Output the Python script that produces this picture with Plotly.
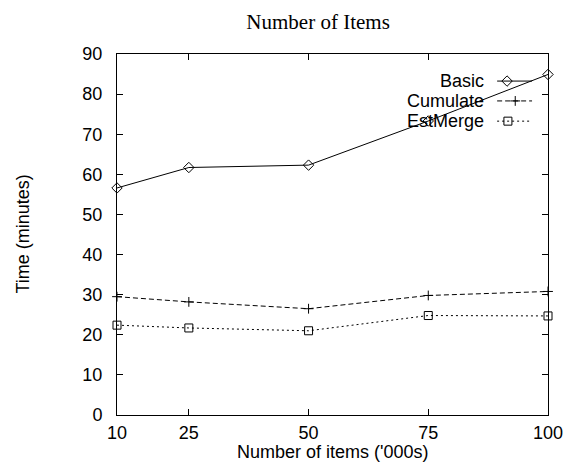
import plotly.graph_objects as go

# ---- data ----
items = [10, 25, 50, 75, 100]
basic = [56.6, 61.7, 62.3, 73.3, 84.9]
cumulate = [29.5, 28.2, 26.5, 29.8, 30.8]
estmerge = [22.4, 21.7, 21.0, 24.8, 24.7]
series_names = ["Basic", "Cumulate", "EstMerge"]
y_ticks = [0, 10, 20, 30, 40, 50, 60, 70, 80, 90]

styles = {
    "Basic": dict(dash="solid", symbol="diamond-open", size=8),
    "Cumulate": dict(dash="5px,3px", symbol="cross-thin-open", size=7),
    "EstMerge": dict(dash="2px,3px", symbol="square-open", size=8),
}
values = {"Basic": basic, "Cumulate": cumulate, "EstMerge": estmerge}

FONT = "Liberation Sans, Arial, sans-serif"
fig = go.Figure()

for name in series_names:
    st = styles[name]
    fig.add_trace(go.Scatter(
        x=items, y=values[name], mode="lines+markers", name=name,
        line=dict(color="black", width=1, dash=st["dash"]),
        marker=dict(symbol=st["symbol"], size=st["size"],
                    color="black", line=dict(color="black", width=1)),
        cliponaxis=False, showlegend=False,
    ))

# custom gnuplot-style key (text left of sample)
key_rows = [0.925, 0.870, 0.814]
key_marker_x = {"Basic": 0.905, "Cumulate": 0.924, "EstMerge": 0.907}
for name, ky in zip(series_names, key_rows):
    st = styles[name]
    fig.add_trace(go.Scatter(
        x=[0.882, 0.963], y=[ky, ky], mode="lines", xaxis="x2", yaxis="y2",
        line=dict(color="black", width=1, dash=st["dash"]), showlegend=False,
        hoverinfo="skip",
    ))
    fig.add_trace(go.Scatter(
        x=[key_marker_x[name]], y=[ky], mode="markers", xaxis="x2", yaxis="y2",
        marker=dict(symbol=st["symbol"], size=st["size"],
                    color="black", line=dict(color="black", width=1)),
        showlegend=False, hoverinfo="skip",
    ))
    fig.add_annotation(
        x=0.856, y=ky, xref="paper", yref="paper", text=name, showarrow=False,
        xanchor="right", yanchor="middle", font=dict(family=FONT, size=18, color="black"),
    )

# axis titles
fig.add_annotation(x=0.5, y=-0.1034, xref="paper", yref="paper",
                   text="Number of items ('000s)", showarrow=False,
                   xanchor="center", yanchor="middle",
                   font=dict(family=FONT, size=18, color="black"))
fig.add_annotation(x=-0.2204, y=0.5, xref="paper", yref="paper",
                   text="Time (minutes)", showarrow=False, textangle=-90,
                   xanchor="center", yanchor="middle",
                   font=dict(family=FONT, size=18, color="black"))

fig.update_layout(
    width=566, height=469,
    margin=dict(l=117, r=18, t=54, b=54),
    paper_bgcolor="white", plot_bgcolor="white",
    title=dict(text="Number of Items", x=0.562, xanchor="center", y=0.953, yanchor="middle",
               font=dict(family="Liberation Serif, Times New Roman, serif", size=21, color="black")),
    font=dict(family=FONT, size=18, color="black"),
    xaxis=dict(range=[10, 100], tickvals=items, ticktext=[str(v) for v in items],
               ticks="inside", ticklen=6, tickcolor="black", mirror="ticks",
               showline=True, linecolor="black", linewidth=1, showgrid=False, zeroline=False,
               automargin=False, ticklabelstandoff=1),
    yaxis=dict(range=[0, 90], tickvals=y_ticks, ticks="inside", ticklen=6, tickcolor="black",
               mirror="ticks", showline=True, linecolor="black", linewidth=1,
               showgrid=False, zeroline=False, automargin=False, ticklabelstandoff=10),
    xaxis2=dict(overlaying="x", range=[0, 1], visible=False, domain=[0, 1]),
    yaxis2=dict(overlaying="y", range=[0, 1], visible=False),
)

fig.write_html("out.html", config={"displayModeBar": False},
               post_script="document.body.style.margin='0';")
